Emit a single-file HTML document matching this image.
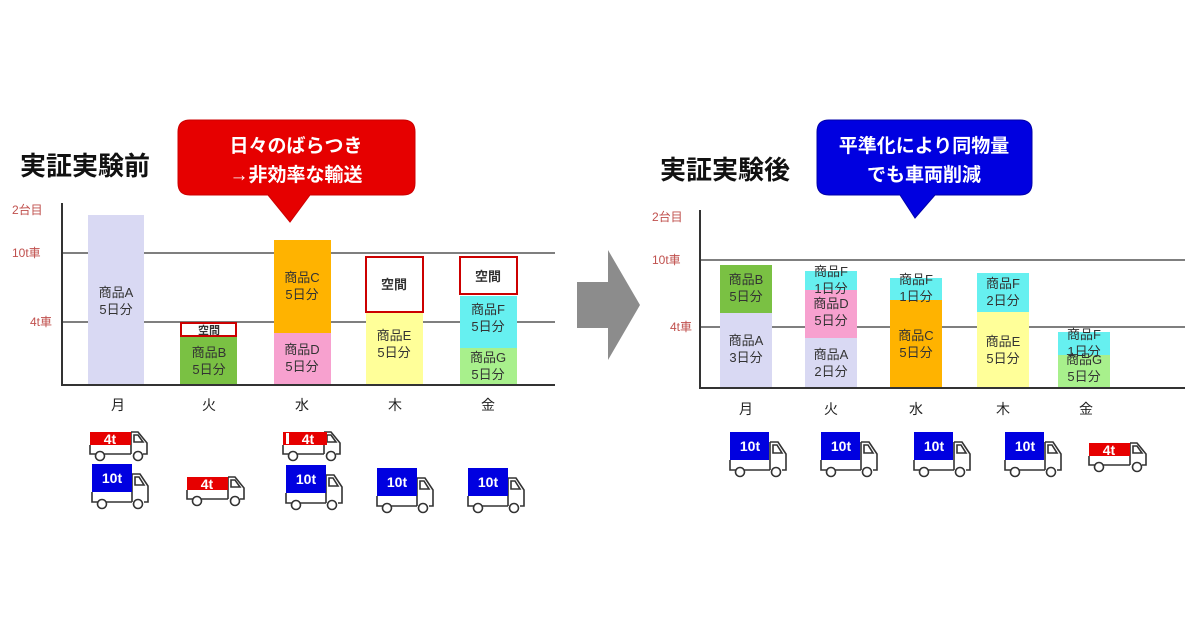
<!DOCTYPE html>
<html><head><meta charset="utf-8"><style>
html,body{margin:0;padding:0;background:#fff;}
svg{display:block;}
text{font-family:"Liberation Sans","Noto Sans CJK JP",sans-serif;}
</style></head><body>
<svg width="1200" height="630" viewBox="0 0 1200 630" xmlns="http://www.w3.org/2000/svg">
<defs>
<g id="cab10" fill="none" stroke="#333" stroke-width="1.6">
  <path d="M0,28 L0,38 L40,38 M40,10 L48,10 L56,22 L56,38 L52,38 M40,10 L40,38"/>
  <path d="M43,13 L47,13 L52,21 L43,21 Z"/>
  <circle cx="10" cy="40" r="4.5" fill="#fff"/><circle cx="46" cy="40" r="4.5" fill="#fff"/>
</g>
<g id="cab4" fill="none" stroke="#333" stroke-width="1.6">
  <path d="M0,13 L0,22 L41,22 M41,0 L48,0 L57,11 L57,22 L53,22 M41,0 L41,22"/>
  <path d="M44,3 L48,3 L53,10 L44,10 Z"/>
  <circle cx="10" cy="24" r="4.5" fill="#fff"/><circle cx="48" cy="24" r="4.5" fill="#fff"/>
</g>
</defs>

<!-- LEFT -->
<text x="20" y="175" font-size="26" font-weight="bold" fill="#111">実証実験前</text>
<path d="M190,120 H403 Q415,120 415,132 V183 Q415,195 403,195 H310 L290,222 L268,195 H190 Q178,195 178,183 V132 Q178,120 190,120 Z" fill="#e60000" stroke="#c00" stroke-width="1"/>
<text x="296" y="152" font-size="19" font-weight="bold" fill="#fff" text-anchor="middle">日々のばらつき</text>
<text x="296" y="181" font-size="19" font-weight="bold" fill="#fff" text-anchor="middle">→非効率な輸送</text>

<g font-size="12" fill="#c0504d">
<text x="12" y="214">2台目</text><text x="12" y="257">10t車</text><text x="30" y="326">4t車</text>
</g>
<line x1="62" y1="253" x2="555" y2="253" stroke="#555" stroke-width="1.5"/>
<line x1="62" y1="322" x2="555" y2="322" stroke="#555" stroke-width="1.5"/>

<rect x="88" y="215" width="56" height="170" fill="#d9d9f3"/>
<rect x="180" y="337" width="57" height="48" fill="#7ac143"/>
<rect x="181" y="323" width="55" height="13" fill="#fff" stroke="#c00" stroke-width="2"/>
<rect x="274" y="240" width="57" height="93" fill="#ffb300"/>
<rect x="274" y="333" width="57" height="52" fill="#f7a1cf"/>
<rect x="366" y="312" width="57" height="73" fill="#ffff99"/>
<rect x="366" y="257" width="57" height="55" fill="#fff" stroke="#c00" stroke-width="2"/>
<rect x="460" y="296" width="57" height="52" fill="#66f0f0"/>
<rect x="460" y="348" width="57" height="37" fill="#a8f08c"/>
<rect x="460" y="257" width="57" height="37" fill="#fff" stroke="#c00" stroke-width="2"/>

<line x1="62" y1="203" x2="62" y2="386" stroke="#333" stroke-width="2"/>
<line x1="61" y1="385" x2="555" y2="385" stroke="#333" stroke-width="2"/>

<g font-size="13" fill="#333" text-anchor="middle">
<text x="116" y="297">商品A</text><text x="116" y="314">5日分</text>
<text x="209" y="334" font-size="11" font-weight="bold">空間</text>
<text x="209" y="357">商品B</text><text x="209" y="374">5日分</text>
<text x="302" y="282">商品C</text><text x="302" y="299">5日分</text>
<text x="302" y="354">商品D</text><text x="302" y="371">5日分</text>
<text x="394" y="289" font-weight="bold">空間</text>
<text x="394" y="340">商品E</text><text x="394" y="357">5日分</text>
<text x="488" y="281" font-weight="bold">空間</text>
<text x="488" y="314">商品F</text><text x="488" y="331">5日分</text>
<text x="488" y="362">商品G</text><text x="488" y="379">5日分</text>
</g>
<g font-size="14" fill="#222" text-anchor="middle">
<text x="118" y="410">月</text><text x="209" y="410">火</text><text x="302" y="410">水</text><text x="395" y="410">木</text><text x="488" y="410">金</text>
</g>

<!-- arrow -->
<path d="M577,282 H608 V250 L640,305 L608,360 V328 H577 Z" fill="#8c8c8c"/>

<!-- RIGHT -->
<text x="660" y="179" font-size="26" font-weight="bold" fill="#111">実証実験後</text>
<path d="M829,120 H1020 Q1032,120 1032,132 V183 Q1032,195 1020,195 H935 L915,218 L900,195 H829 Q817,195 817,183 V132 Q817,120 829,120 Z" fill="#0000e0" stroke="#00a" stroke-width="1"/>
<text x="924" y="152" font-size="19" font-weight="bold" fill="#fff" text-anchor="middle">平準化により同物量</text>
<text x="924" y="181" font-size="19" font-weight="bold" fill="#fff" text-anchor="middle">でも車両削減</text>

<g font-size="12" fill="#c0504d">
<text x="652" y="221">2台目</text><text x="652" y="264">10t車</text><text x="670" y="331">4t車</text>
</g>
<line x1="700" y1="260" x2="1185" y2="260" stroke="#555" stroke-width="1.5"/>
<line x1="700" y1="327" x2="1185" y2="327" stroke="#555" stroke-width="1.5"/>

<rect x="720" y="265" width="52" height="48" fill="#7ac143"/>
<rect x="720" y="313" width="52" height="74" fill="#d9d9f3"/>
<rect x="805" y="271" width="52" height="19" fill="#66f0f0"/>
<rect x="805" y="290" width="52" height="48" fill="#f7a1cf"/>
<rect x="805" y="338" width="52" height="49" fill="#d9d9f3"/>
<rect x="890" y="278" width="52" height="22" fill="#66f0f0"/>
<rect x="890" y="300" width="52" height="88" fill="#ffb300"/>
<rect x="977" y="273" width="52" height="39" fill="#66f0f0"/>
<rect x="977" y="312" width="52" height="76" fill="#ffff99"/>
<rect x="1058" y="332" width="52" height="23" fill="#66f0f0"/>
<rect x="1058" y="355" width="52" height="32" fill="#a8f08c"/>

<line x1="700" y1="210" x2="700" y2="389" stroke="#333" stroke-width="2"/>
<line x1="699" y1="388" x2="1185" y2="388" stroke="#333" stroke-width="2"/>

<g font-size="13" fill="#333" text-anchor="middle">
<text x="746" y="284">商品B</text><text x="746" y="301">5日分</text>
<text x="746" y="345">商品A</text><text x="746" y="362">3日分</text>
<text x="831" y="276">商品F</text><text x="831" y="293">1日分</text>
<text x="831" y="308">商品D</text><text x="831" y="325">5日分</text>
<text x="831" y="359">商品A</text><text x="831" y="376">2日分</text>
<text x="916" y="284">商品F</text><text x="916" y="301">1日分</text>
<text x="916" y="340">商品C</text><text x="916" y="357">5日分</text>
<text x="1003" y="288">商品F</text><text x="1003" y="305">2日分</text>
<text x="1003" y="346">商品E</text><text x="1003" y="363">5日分</text>
<text x="1084" y="339">商品F</text><text x="1084" y="356">1日分</text>
<text x="1084" y="364">商品G</text><text x="1084" y="381">5日分</text>
</g>
<g font-size="14" fill="#222" text-anchor="middle">
<text x="746" y="414">月</text><text x="831" y="414">火</text><text x="916" y="414">水</text><text x="1003" y="414">木</text><text x="1086" y="414">金</text>
</g>

<g font-size="14" font-weight="bold" fill="#fff" text-anchor="middle">
<g transform="translate(90,432)"><use href="#cab4"/><rect x="0" y="0" width="41" height="13" fill="#e60000"/><text x="20" y="12">4t</text></g>
<g transform="translate(92,464)"><use href="#cab10"/><rect x="0" y="0" width="40" height="28" fill="#0000e0"/><text x="20" y="19">10t</text></g>
<g transform="translate(187,477)"><use href="#cab4"/><rect x="0" y="0" width="41" height="13" fill="#e60000"/><text x="20" y="12">4t</text></g>
<g transform="translate(283,432)"><use href="#cab4"/><rect x="0" y="0" width="44" height="13" fill="#e60000"/><rect x="3" y="1" width="3" height="11" fill="#fff"/><text x="25" y="12">4t</text></g>
<g transform="translate(286,465)"><use href="#cab10"/><rect x="0" y="0" width="40" height="28" fill="#0000e0"/><text x="20" y="19">10t</text></g>
<g transform="translate(377,468)"><use href="#cab10"/><rect x="0" y="0" width="40" height="28" fill="#0000e0"/><text x="20" y="19">10t</text></g>
<g transform="translate(468,468)"><use href="#cab10"/><rect x="0" y="0" width="40" height="28" fill="#0000e0"/><text x="20" y="19">10t</text></g>
<g transform="translate(730,432)"><use href="#cab10"/><rect x="0" y="0" width="39" height="28" fill="#0000e0"/><text x="20" y="19">10t</text></g>
<g transform="translate(821,432)"><use href="#cab10"/><rect x="0" y="0" width="39" height="28" fill="#0000e0"/><text x="20" y="19">10t</text></g>
<g transform="translate(914,432)"><use href="#cab10"/><rect x="0" y="0" width="39" height="28" fill="#0000e0"/><text x="20" y="19">10t</text></g>
<g transform="translate(1005,432)"><use href="#cab10"/><rect x="0" y="0" width="39" height="28" fill="#0000e0"/><text x="20" y="19">10t</text></g>
<g transform="translate(1089,443)"><use href="#cab4"/><rect x="0" y="0" width="41" height="13" fill="#e60000"/><text x="20" y="12">4t</text></g>
</g>
</svg>
</body></html>
